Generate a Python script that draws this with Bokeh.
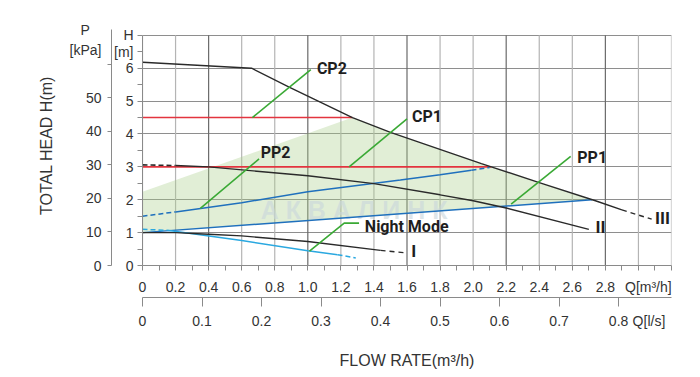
from bokeh.plotting import figure
from bokeh.models import Range1d, LinearAxis, FixedTicker
from bokeh.core.properties import value
from bokeh.embed import file_html
from bokeh.resources import INLINE

NB = "\u00a0"

# ---------------- tick values / labels ----------------
q_ticks = [0, 0.2, 0.4, 0.6, 0.8, 1.0, 1.2, 1.4, 1.6, 1.8, 2.0, 2.2, 2.4, 2.6, 2.8, 3.06]
q_tick_labels = ["0", "0.2", "0.4", "0.6", "0.8", "1.0", "1.2", "1.4", "1.6",
                 "1.8", "2.0", "2.2", "2.4", "2.6", "2.8", "Q[m³/h]"]
q_marks = [0, 0.1, 0.2, 0.3, 0.4, 0.5, 0.6, 0.7, 0.8, 0.9, 1.0, 1.1, 1.2, 1.3, 1.4, 1.5,
           1.6, 1.7, 1.8, 1.9, 2.0, 2.1, 2.2, 2.3, 2.4, 2.5, 2.6, 2.7, 2.8, 2.9, 3.0, 3.1, 3.2]
q_grid_light = [0, 0.2, 0.6, 0.8, 1.2, 1.4, 1.8, 2.0, 2.4, 2.6, 3.0, 3.2]
q_grid_dark = [0.4, 1.0, 1.6, 2.2, 2.8]
ls_ticks = [0, 0.1, 0.2, 0.3, 0.4, 0.5, 0.6, 0.7, 0.8, 0.851]
ls_tick_labels = ["0", "0.1", "0.2", "0.3", "0.4", "0.5", "0.6", "0.7", "0.8", "Q[l/s]"]
ls_marks = [0, 0.1, 0.2, 0.3, 0.4, 0.5, 0.6, 0.7, 0.8]
h_ticks = [0, 1, 2, 3, 4, 5, 6, 6.5, 7]
h_tick_labels = ["0", "1", "2", "3", "4", "5", "6", "[m]", "H"]
h_minor = [0.5, 1.5, 2.5, 3.5, 4.5, 5.5]
h_grid = [0, 1, 2, 3, 4, 5, 6, 7]
p_ticks = [0, 10, 20, 30, 40, 50, 64.4, 70.4]
p_tick_labels = ["0", "10", "20", "30", "40", "50", "[kPa]", "P" + NB * 3]
p_marks = [0, 10, 20, 30, 40, 50, 60]

Q_MAX = 3.2
H_TOP = 7.0        # top edge of the chart grid
H_VIEW = 7.3       # room above the grid for the "P" unit label
KPA_PER_M = 9.81
M3H_PER_LS = 3.6

# ---------------- curves (Q m3/h, H m) ----------------
q_III = [0, 0.66, 0.89, 1.27, 1.5, 2.05, 2.4, 2.74, 2.9]
h_III = [6.18, 6.0, 5.42, 4.5, 4.05, 3.1, 2.52, 1.97, 1.69]
q_III_tail = [2.9, 3.08]
h_III_tail = [1.69, 1.41]

q_II_head = [0, 0.2]
h_II_head = [3.06, 3.04]
q_II = [0.2, 0.4, 1.0, 1.4, 1.8, 2.0, 2.2, 2.7]
h_II = [3.04, 3.0, 2.73, 2.49, 2.15, 1.97, 1.75, 1.10]

q_I = [0, 0.2, 0.4, 0.6, 1.0, 1.44]
h_I = [1.0, 1.0, 0.95, 0.9, 0.73, 0.46]
q_I_tail = [1.44, 1.58]
h_I_tail = [0.46, 0.39]

q_night_head = [0, 0.15]
h_night_head = [1.1, 1.07]
q_night = [0.15, 0.6, 1.0, 1.18]
h_night = [1.07, 0.76, 0.45, 0.33]
q_night_tail = [1.18, 1.29]
h_night_tail = [0.33, 0.23]

q_pp2_head = [0, 0.2]
h_pp2_head = [1.5, 1.63]
q_pp2 = [0.2, 0.6, 1.0, 1.56, 1.8, 1.99]
h_pp2 = [1.63, 1.91, 2.24, 2.6, 2.76, 2.9]
q_pp2_tail = [1.99, 2.1]
h_pp2_tail = [2.9, 2.98]

q_pp1 = [0, 2.72]
h_pp1 = [1.0, 2.0]

q_cp2 = [0, 1.27]
h_cp2 = [4.5, 4.5]
q_cp1 = [0, 2.11]
h_cp1 = [3.0, 3.0]

# shaded operating area
q_area = [0, 0, 1.27, 1.5, 2.05, 2.4, 2.72]
h_area = [1.0, 2.24, 4.5, 4.05, 3.1, 2.52, 2.0]

# ---------------- callouts ----------------
q_ptr_cp2, h_ptr_cp2 = [0.665, 1.018], [4.5, 5.96]
q_ptr_cp1, h_ptr_cp1 = [1.25, 1.6], [3.0, 4.46]
q_ptr_pp2, h_ptr_pp2 = [0.35, 0.705], [1.74, 3.24]
q_ptr_pp1, h_ptr_pp1 = [2.23, 2.59], [1.87, 3.32]
q_ptr_night, h_ptr_night = [1.01, 1.22, 1.31], [0.44, 1.29, 1.29]

callout_text = ["CP2", "CP1", "PP2", "PP1", "Night Mode"]
callout_q = [1.055, 1.63, 0.715, 2.63, 1.345]
callout_h = [5.98, 4.53, 3.44, 3.29, 1.2]

speed_text = ["I", "II", "III"]
speed_q = [1.64, 2.77, 3.145]
speed_h = [0.44, 1.17, 1.43]

# ---------------- styles ----------------
BLACK = "#2a2a2a"
RED = "#e3343f"
DBLUE = "#1f70bd"
LBLUE = "#2aa8e0"
GREEN = "#3aa935"
TXT = "#333333"
FONT = "Liberation Sans"
BOLD_FONT = "Roboto"

p = figure(width=700, height=377, x_range=Range1d(0, Q_MAX), y_range=Range1d(0, H_VIEW),
           output_backend="svg", toolbar_location=None,
           min_border_left=142, min_border_right=29, min_border_top=25, min_border_bottom=112,
           outline_line_color=None)
p.extra_y_ranges = {"kpa": Range1d(0, H_VIEW * KPA_PER_M)}
p.extra_x_ranges = {"ls": Range1d(0, Q_MAX / M3H_PER_LS)}

# grids
p.xgrid.visible = False
p.ygrid.ticker = FixedTicker(ticks=h_grid)
p.ygrid.grid_line_color = "#8e8e8e"
p.ygrid.grid_line_width = 1.2
p.segment(x0=q_grid_light, y0=[0] * len(q_grid_light), x1=q_grid_light,
          y1=[H_TOP] * len(q_grid_light), line_color="#b4b4b4", line_width=1.2)
p.segment(x0=q_grid_dark, y0=[0] * len(q_grid_dark), x1=q_grid_dark,
          y1=[H_TOP] * len(q_grid_dark), line_color="#6a6a6a", line_width=1.2)

def style_axis(ax, size="14px"):
    ax.axis_line_color = "#8a8a8a"
    ax.major_tick_line_color = "#8a8a8a"
    ax.minor_tick_line_color = "#8a8a8a"
    ax.major_label_text_font = FONT
    ax.major_label_text_font_size = size
    ax.major_label_text_color = TXT
    ax.axis_label_text_font = FONT
    ax.axis_label_text_font_style = "normal"
    ax.axis_label_text_color = TXT
    ax.major_tick_in = 0
    ax.minor_tick_in = 0

# H axis (default left)
hy = p.yaxis[0]
hy.ticker = FixedTicker(ticks=h_ticks, minor_ticks=h_minor)
hy.major_label_overrides = dict(zip(h_ticks, h_tick_labels))
hy.bounds = (0, H_TOP)
style_axis(hy)
hy.major_tick_out = 5
hy.minor_tick_out = 5
hy.major_label_standoff = 4

# P axis (labels on major ticks, marks drawn as minor ticks)
py = LinearAxis(y_range_name="kpa", ticker=FixedTicker(ticks=p_ticks, minor_ticks=p_marks),
                axis_label="TOTAL HEAD H(m)")
py.major_label_overrides = dict(zip(p_ticks, p_tick_labels))
py.bounds = (0, 70.4)
style_axis(py)
py.major_tick_out = 0
py.minor_tick_out = 4
py.major_label_standoff = 6
py.axis_label_text_font_size = "16px"
py.axis_label_standoff = 12
p.add_layout(py, "left")

# Q m3/h axis (default below)
qx = p.xaxis[0]
qx.ticker = FixedTicker(ticks=q_ticks, minor_ticks=q_marks)
qx.major_label_overrides = dict(zip(q_ticks, q_tick_labels))
style_axis(qx)
qx.major_tick_out = 0
qx.minor_tick_out = 5
qx.major_label_standoff = 8

# Q l/s axis
lx = LinearAxis(x_range_name="ls", ticker=FixedTicker(ticks=ls_ticks, minor_ticks=ls_marks),
                axis_label="FLOW RATE(m³/h)")
lx.major_label_overrides = dict(zip(ls_ticks, ls_tick_labels))
style_axis(lx)
lx.major_tick_out = 0
lx.minor_tick_out = 9
lx.major_label_standoff = 6
lx.axis_label_text_font_size = "16px"
lx.axis_label_standoff = 20
p.add_layout(lx, "below")

# shaded area + watermark
p.patch(q_area, h_area, fill_color="#a9cf8a", fill_alpha=0.35, line_color=None)
p.text(x=[1.28], y=[1.69], text=["А К В А Л И Н К"], text_align="center",
       text_baseline="middle", text_font=value(FONT), text_font_style="bold",
       text_font_size="25px", text_color="#c9d6dc", text_alpha=0.6)

def line(q, h, color, dash="solid", w=1.4):
    p.line(q, h, line_color=color, line_width=w, line_dash=dash)

line(q_cp2, h_cp2, RED, w=1.6)
line(q_cp1, h_cp1, RED, w=1.6)
line(q_pp1, h_pp1, DBLUE, w=1.5)
line(q_pp2_head, h_pp2_head, DBLUE, "5 3", 1.5)
line(q_pp2, h_pp2, DBLUE, w=1.5)
line(q_pp2_tail, h_pp2_tail, DBLUE, "5 3", 1.5)
line(q_night_head, h_night_head, LBLUE, "5 3", 1.5)
line(q_night, h_night, LBLUE, w=1.5)
line(q_night_tail, h_night_tail, LBLUE, "5 3", 1.5)
line(q_III, h_III, BLACK)
line(q_III_tail, h_III_tail, BLACK, "5 4")
line(q_II_head, h_II_head, BLACK, "5 3", 1.6)
line(q_II, h_II, BLACK)
line(q_I, h_I, BLACK)
line(q_I_tail, h_I_tail, BLACK, "5 4")

for qq, hh in [(q_ptr_cp2, h_ptr_cp2), (q_ptr_cp1, h_ptr_cp1), (q_ptr_pp2, h_ptr_pp2),
               (q_ptr_pp1, h_ptr_pp1), (q_ptr_night, h_ptr_night)]:
    line(qq, hh, GREEN, w=1.6)

p.text(x=callout_q, y=callout_h, text=callout_text, text_align="left", text_baseline="middle",
       text_font=value(BOLD_FONT), text_font_style="bold", text_font_size="16px",
       text_color="#1e1e1e")
p.text(x=speed_q, y=speed_h, text=speed_text, text_align="center", text_baseline="middle",
       text_font=value(BOLD_FONT), text_font_style="bold", text_font_size="17px",
       text_color="#1e1e1e")

open("out.html", "w").write(file_html(p, INLINE))
